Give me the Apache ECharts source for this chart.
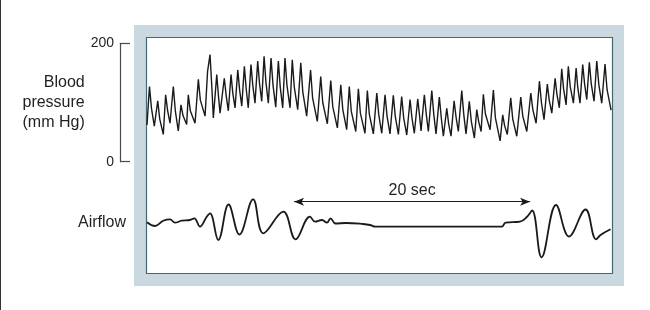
<!DOCTYPE html>
<html><head><meta charset="utf-8">
<script src="https://cdn.jsdelivr.net/npm/echarts@6/dist/echarts.min.js"></script>
<style>html,body{margin:0;padding:0;background:#fff}#c{width:650px;height:310px}</style>
</head><body><div id="c"></div><script>
// Blood pressure trace: alternating diastolic troughs and systolic peaks (time in s, mm Hg)
const bpTime = [0.00,0.21,0.62,0.91,1.38,1.58,1.95,2.23,2.65,2.88,3.36,3.50,4.07,4.35,4.92,5.13,5.34,5.62,5.91,6.19,6.55,6.89,7.12,7.46,7.69,8.03,8.25,8.58,8.81,9.15,9.38,9.72,9.92,10.28,10.51,10.91,11.13,11.50,11.69,12.12,12.31,12.77,13.03,13.53,13.86,14.43,14.72,15.28,15.57,16.13,16.42,16.92,17.14,17.69,17.91,18.47,18.67,19.18,19.47,19.89,20.17,20.59,20.87,21.30,21.58,22.01,22.29,22.65,22.94,23.22,23.50,23.84,24.13,24.49,24.77,25.11,25.40,25.76,26.02,26.38,26.67,27.03,27.31,27.74,27.94,28.31,28.50,29.07,29.35,29.92,30.14,30.53,30.82,31.33,31.67,32.18,32.52,32.97,33.25,33.64,33.92,34.30,34.58,34.94,35.14,35.51,35.70,36.13,36.36,36.69,36.92,37.26,37.48,37.88,38.11,38.53,38.81,39.32];
const bpPressure = [62,127,60,103,46,113,65,127,52,96,63,113,65,139,77,152,181,74,147,82,141,86,147,91,155,94,161,91,164,99,170,102,178,99,175,92,170,91,175,91,172,88,167,77,155,68,144,64,137,57,130,54,127,51,123,48,120,47,116,48,113,47,112,46,110,45,105,48,106,52,113,51,120,47,109,43,90,43,103,51,120,47,102,40,88,51,114,54,121,35,79,46,108,43,109,51,116,65,136,71,131,82,141,91,157,96,161,99,158,99,164,105,168,102,170,99,165,87];
// Dicrotic notch after each systolic peak (time in s, mm Hg)
const bpNotchTime = [0.38,1.08,1.75,2.40,3.05,3.67,4.52,5.51,6.06,6.72,7.27,7.85,8.41,8.97,9.53,10.08,10.68,11.29,11.86,12.48,13.20,14.03,14.89,15.74,16.59,17.31,18.08,18.84,19.64,20.34,21.04,21.75,22.45,23.10,23.67,24.30,24.94,25.56,26.19,26.84,27.48,28.10,28.67,29.52,30.30,30.99,31.84,32.69,33.42,34.08,34.74,35.30,35.86,36.50,37.08,37.64,38.28,38.98];
const bpNotchPressure = [90,72,86,86,78,86,104,120,110,110,116,121,122,128,133,134,129,126,129,126,118,108,100,93,88,85,82,80,79,77,76,74,74,77,79,80,73,64,75,80,68,68,81,74,61,72,77,88,100,104,113,123,127,125,131,132,131,122];
// Airflow trace (time in s, arbitrary units)
const flowTime = [0,0.68,1.38,1.95,2.37,2.94,3.64,4.01,4.49,5.06,5.34,6.04,6.91,7.83,8.99,9.86,11.55,12.59,13.81,14.24,14.83,15.25,15.55,15.97,16.86,18.31,18.9,19.36,30.06,30.38,31.61,32.18,32.63,33.43,34.66,35.76,37.16,38.05,38.43,39.28];
const flowValue = [0.37,0,0.53,0.67,0.33,0.53,0.6,0.77,-0.07,0.93,1.27,-1.4,2.15,-0.85,2.67,-0.73,1.43,-1.33,0.93,0.43,0.6,0.33,0.77,0.25,0.3,0.2,0.1,-0.07,-0.07,0.33,0.43,0.9,1.55,-3.13,2.1,-1.05,1.65,-1.33,-0.9,-0.33];
// Apnea marker
const apneaStart = 12.46, apneaEnd = 32.46, apneaLabel = '20 sec', apneaLevel = 2.43;
const bpTicks = [0, 200];
const traceDuration = 39.4;

const bpData = bpTime.map((t,i)=>[t,bpPressure[i]])
  .concat(bpNotchTime.map((t,i)=>[t,bpNotchPressure[i]]))
  .sort((a,b)=>a[0]-b[0]);

const chart = echarts.init(document.getElementById('c'), null, {renderer:'canvas'});
const ink = '#1a1a1a', textCol = '#231f20', font = 'Liberation Sans, Arial, Helvetica, sans-serif';
chart.setOption({
  animation: false,
  backgroundColor: '#fff',
  textStyle: {fontFamily: font},
  graphic: [
    {type:'line', shape:{x1:0.5,y1:0,x2:0.5,y2:310}, style:{stroke:'#333',lineWidth:1}, z:0},
    {type:'rect', shape:{x:134,y:25,width:490,height:261}, style:{fill:'#c9d9df'}, z:0},
    {type:'rect', shape:{x:146.5,y:37.5,width:466,height:236}, style:{fill:'#ffffff', stroke:'#47676e', lineWidth:1.2}, z:1}
  ],
  grid: [
    {left:147, right:38, top:43.3, height:118.4, containLabel:false},
    {left:147, right:38, top:186, height:74, containLabel:false}
  ],
  xAxis: [
    {type:'value', gridIndex:0, min:0, max:traceDuration, show:false},
    {type:'value', gridIndex:1, min:0, max:traceDuration, show:false}
  ],
  yAxis: [
    {type:'value', gridIndex:0, min:bpTicks[0], max:bpTicks[1], interval:bpTicks[1]-bpTicks[0], position:'left', offset:27, z:5,
     axisLine:{show:true, onZero:false, lineStyle:{color:'#4a4a4a', width:1.2}},
     axisTick:{show:true, inside:true, length:10, lineStyle:{color:'#4a4a4a', width:1.2}},
     axisLabel:{color:textCol, fontSize:14, margin:6, fontFamily:font},
     splitLine:{show:false},
     name:'Blood\npressure\n(mm Hg)', nameLocation:'middle', nameRotate:0, nameGap:32,
     nameTextStyle:{color:textCol, fontSize:16, lineHeight:20, align:'right', verticalAlign:'middle', padding:[9,0,0,0], fontFamily:font}
    },
    {type:'value', gridIndex:1, min:-3.4, max:4, position:'left',
     axisLine:{show:false}, axisTick:{show:false}, axisLabel:{show:false}, splitLine:{show:false},
     name:'Airflow', nameLocation:'middle', nameRotate:0, nameGap:21,
     nameTextStyle:{color:textCol, fontSize:16, align:'right', verticalAlign:'middle', fontFamily:font}
    }
  ],
  series: [
    {type:'line', name:'Blood pressure', xAxisIndex:0, yAxisIndex:0, z:10, showSymbol:false, symbol:'none',
     lineStyle:{color:ink, width:1.4}, data: bpData},
    {type:'line', name:'Airflow', xAxisIndex:1, yAxisIndex:1, z:10, showSymbol:false, symbol:'none', smooth:0.4,
     lineStyle:{color:ink, width:1.8}, data: flowTime.map((t,i)=>[t,flowValue[i]]),
     markLine:{silent:true, symbol:['arrow','arrow'], symbolSize:[6,10],
       lineStyle:{color:ink, width:1, type:'solid'},
       label:{show:true, position:'middle', formatter:apneaLabel, color:textCol, fontSize:16, distance:3, fontFamily:font},
       data:[[{coord:[apneaStart, apneaLevel]}, {coord:[apneaEnd, apneaLevel]}]]}
    }
  ]
});
</script></body></html>
